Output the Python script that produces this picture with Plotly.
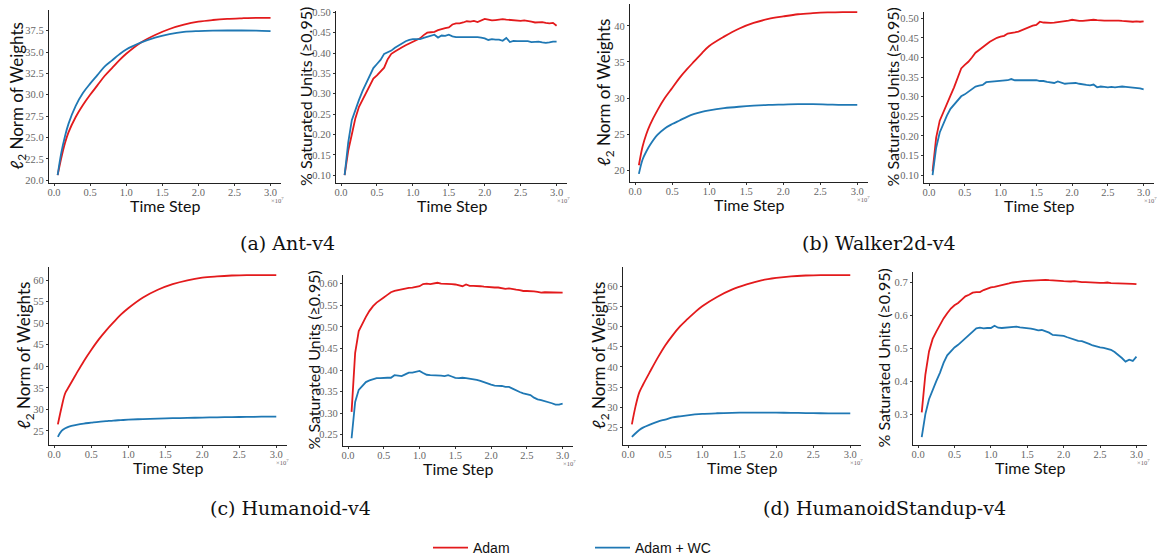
import plotly.graph_objects as go

# ---------------- data ----------------
X_NORM = [0.05, 0.1, 0.15, 0.2, 0.3, 0.4, 0.5, 0.6, 0.7, 0.8, 0.9, 1.0,
          1.2, 1.4, 1.6, 1.8, 2.0, 2.2, 2.4, 2.6, 2.8, 3.0]
X_SAT = [0.05, 0.10, 0.15, 0.20, 0.25, 0.30, 0.35, 0.40, 0.45, 0.50,
         0.55, 0.60, 0.65, 0.70, 0.75, 0.80, 0.85, 0.90, 0.95, 1.00,
         1.05, 1.10, 1.15, 1.20, 1.25, 1.30, 1.35, 1.40, 1.45, 1.50,
         1.55, 1.60, 1.65, 1.70, 1.75, 1.80, 1.85, 1.90, 1.95, 2.00,
         2.05, 2.10, 2.15, 2.20, 2.25, 2.30, 2.35, 2.40, 2.45, 2.50,
         2.55, 2.60, 2.65, 2.70, 2.75, 2.80, 2.85, 2.90, 2.95, 3.00]

ant_norm_adam = [20.6, 22.6, 24.3, 25.6, 27.4, 28.8, 30.0, 31.1, 32.2, 33.1, 34.0, 34.8,
                 36.1, 37.0, 37.7, 38.2, 38.55, 38.75, 38.88, 38.95, 39.0, 39.0]
ant_norm_wc = [20.6, 23.2, 25.1, 26.6, 28.7, 30.2, 31.3, 32.3, 33.3, 34.0, 34.7, 35.3,
               36.1, 36.7, 37.1, 37.35, 37.45, 37.5, 37.52, 37.52, 37.5, 37.45]
ant_sat_adam = [0.100, 0.160, 0.200, 0.240, 0.268, 0.285, 0.305, 0.322, 0.337, 0.345,
                0.355, 0.364, 0.385, 0.398, 0.404, 0.410, 0.414, 0.419, 0.423, 0.427,
                0.430, 0.436, 0.444, 0.450, 0.451, 0.452, 0.456, 0.459, 0.461, 0.463,
                0.470, 0.473, 0.473, 0.475, 0.478, 0.477, 0.479, 0.476, 0.480, 0.484,
                0.482, 0.480, 0.481, 0.482, 0.483, 0.482, 0.481, 0.480, 0.479, 0.479,
                0.480, 0.479, 0.477, 0.475, 0.476, 0.476, 0.474, 0.473, 0.474, 0.467]
ant_sat_wc = [0.100, 0.180, 0.235, 0.262, 0.285, 0.307, 0.327, 0.345, 0.363, 0.373,
              0.383, 0.398, 0.402, 0.406, 0.413, 0.419, 0.424, 0.429, 0.432, 0.434,
              0.434, 0.434, 0.437, 0.440, 0.443, 0.445, 0.438, 0.443, 0.442, 0.445,
              0.441, 0.439, 0.439, 0.439, 0.440, 0.440, 0.440, 0.439, 0.438, 0.436,
              0.432, 0.434, 0.433, 0.433, 0.430, 0.437, 0.427, 0.430, 0.429, 0.429,
              0.428, 0.429, 0.427, 0.427, 0.428, 0.426, 0.425, 0.426, 0.428, 0.428]

walker_norm_adam = [20.7, 23.3, 25.0, 26.3, 28.3, 30.0, 31.4, 32.8, 34.0, 35.1, 36.2, 37.2,
                    38.5, 39.6, 40.4, 40.95, 41.3, 41.6, 41.75, 41.85, 41.9, 41.9]
walker_norm_wc = [19.5, 21.5, 22.6, 23.5, 24.9, 25.8, 26.4, 26.9, 27.4, 27.8, 28.1, 28.3,
                  28.6, 28.8, 28.95, 29.05, 29.1, 29.15, 29.15, 29.1, 29.05, 29.05]
walker_sat_adam = [0.110, 0.196, 0.239, 0.262, 0.282, 0.303, 0.324, 0.350, 0.372, 0.381,
                   0.389, 0.400, 0.412, 0.419, 0.427, 0.433, 0.440, 0.446, 0.450, 0.453,
                   0.455, 0.461, 0.462, 0.464, 0.466, 0.470, 0.475, 0.479, 0.481, 0.483,
                   0.491, 0.489, 0.488, 0.488, 0.489, 0.490, 0.491, 0.492, 0.494, 0.496,
                   0.494, 0.493, 0.493, 0.494, 0.495, 0.496, 0.495, 0.494, 0.494, 0.494,
                   0.494, 0.495, 0.494, 0.493, 0.492, 0.492, 0.491, 0.492, 0.491, 0.492]
walker_sat_wc = [0.100, 0.170, 0.209, 0.232, 0.252, 0.269, 0.280, 0.292, 0.301, 0.306,
                 0.312, 0.320, 0.326, 0.328, 0.330, 0.337, 0.338, 0.338, 0.339, 0.340,
                 0.341, 0.342, 0.345, 0.342, 0.342, 0.342, 0.342, 0.343, 0.343, 0.342,
                 0.340, 0.340, 0.338, 0.337, 0.335, 0.339, 0.336, 0.333, 0.334, 0.335,
                 0.335, 0.333, 0.331, 0.330, 0.329, 0.331, 0.324, 0.326, 0.325, 0.324,
                 0.325, 0.324, 0.325, 0.326, 0.325, 0.324, 0.323, 0.323, 0.321, 0.319]

hum_norm_adam = [26.5, 30.5, 33.8, 35.3, 38.3, 41.2, 43.8, 46.2, 48.3, 50.2, 52.0, 53.5,
                 56.0, 57.8, 59.1, 60.0, 60.6, 60.9, 61.1, 61.2, 61.2, 61.2]
hum_norm_wc = [23.6, 25.0, 25.6, 26.0, 26.4, 26.7, 26.9, 27.1, 27.25, 27.4, 27.5, 27.6,
               27.75, 27.85, 27.95, 28.0, 28.1, 28.15, 28.2, 28.25, 28.3, 28.3]
hum_sat_adam = [0.303, 0.440, 0.490, 0.508, 0.523, 0.537, 0.548, 0.556, 0.563, 0.568,
                0.574, 0.580, 0.583, 0.585, 0.586, 0.588, 0.590, 0.591, 0.592, 0.594,
                0.599, 0.600, 0.599, 0.600, 0.602, 0.600, 0.600, 0.599, 0.599, 0.598,
                0.596, 0.594, 0.598, 0.595, 0.595, 0.595, 0.594, 0.593, 0.592, 0.592,
                0.591, 0.591, 0.589, 0.588, 0.589, 0.587, 0.586, 0.585, 0.583, 0.583,
                0.583, 0.582, 0.581, 0.579, 0.580, 0.580, 0.579, 0.579, 0.579, 0.579]
hum_sat_wc = [0.242, 0.326, 0.354, 0.364, 0.372, 0.376, 0.379, 0.381, 0.381, 0.382,
              0.382, 0.382, 0.388, 0.387, 0.386, 0.390, 0.394, 0.394, 0.396, 0.398,
              0.393, 0.389, 0.388, 0.388, 0.387, 0.387, 0.386, 0.388, 0.385, 0.382,
              0.381, 0.382, 0.381, 0.380, 0.379, 0.377, 0.375, 0.372, 0.368, 0.366,
              0.364, 0.364, 0.363, 0.361, 0.361, 0.357, 0.352, 0.349, 0.346, 0.344,
              0.342, 0.336, 0.332, 0.330, 0.328, 0.326, 0.323, 0.320, 0.320, 0.322]

hs_norm_adam = [25.8, 30.3, 33.7, 35.6, 39.0, 42.3, 45.3, 47.8, 50.0, 51.8, 53.5, 55.0,
                57.3, 59.1, 60.4, 61.4, 62.0, 62.4, 62.6, 62.7, 62.7, 62.7]
hs_norm_wc = [22.7, 23.6, 24.4, 25.0, 25.8, 26.5, 27.0, 27.5, 27.8, 28.05, 28.25, 28.4,
              28.55, 28.65, 28.7, 28.7, 28.7, 28.65, 28.6, 28.55, 28.5, 28.5]
hs_sat_adam = [0.305, 0.420, 0.490, 0.528, 0.550, 0.572, 0.590, 0.606, 0.620, 0.630,
               0.637, 0.647, 0.657, 0.662, 0.668, 0.670, 0.670, 0.676, 0.681, 0.684,
               0.686, 0.688, 0.691, 0.694, 0.696, 0.699, 0.701, 0.701, 0.703, 0.704,
               0.705, 0.706, 0.707, 0.707, 0.707, 0.706, 0.706, 0.705, 0.704, 0.703,
               0.702, 0.702, 0.703, 0.701, 0.700, 0.700, 0.699, 0.699, 0.698, 0.698,
               0.698, 0.699, 0.697, 0.697, 0.697, 0.696, 0.696, 0.696, 0.695, 0.694]
hs_sat_wc = [0.230, 0.300, 0.345, 0.375, 0.400, 0.425, 0.455, 0.478, 0.490, 0.502,
             0.510, 0.520, 0.532, 0.543, 0.553, 0.560, 0.562, 0.560, 0.561, 0.561,
             0.568, 0.562, 0.561, 0.562, 0.563, 0.565, 0.565, 0.563, 0.562, 0.562,
             0.559, 0.557, 0.554, 0.555, 0.552, 0.547, 0.540, 0.539, 0.540, 0.537,
             0.533, 0.529, 0.526, 0.522, 0.521, 0.518, 0.513, 0.508, 0.504, 0.502,
             0.501, 0.499, 0.495, 0.488, 0.480, 0.470, 0.459, 0.465, 0.461, 0.474]

X_TICKS = [0.0, 0.5, 1.0, 1.5, 2.0, 2.5, 3.0]
SERIES_NAMES = ["Adam", "Adam + WC"]
CAPTIONS = ["(a) Ant-v4", "(b) Walker2d-v4", "(c) Humanoid-v4", "(d) HumanoidStandup-v4"]
NORM_TITLE = "<i>ℓ</i><sub>2</sub> Norm of Weights"
SAT_TITLE = "% Saturated Units (≥0.95)"

# ---------------- style / layout ----------------
W, H = 1159, 560
RED = "#e31a1c"
BLUE = "#1f78b4"
SANS = "Lato"
SERIF = "Liberation Serif"

# each panel: (x-data, adam, wc, ytitle, dtick, tick0, fmt, left, right, top, bottom, ytitle_x)
panels = [
    (X_NORM, ant_norm_adam, ant_norm_wc, NORM_TITLE, 2.5, 20, ".1f", 49, 281, 10, 183, 18),
    (X_SAT, ant_sat_adam, ant_sat_wc, SAT_TITLE, 0.05, 0.1, ".2f", 336, 567, 11, 183, 305),
    (X_NORM, walker_norm_adam, walker_norm_wc, NORM_TITLE, 5, 20, "d", 630, 868, 4, 182, 605),
    (X_SAT, walker_sat_adam, walker_sat_wc, SAT_TITLE, 0.05, 0.1, ".2f", 924, 1154, 12, 183, 892),
    (X_NORM, hum_norm_adam, hum_norm_wc, NORM_TITLE, 5, 25, "d", 49, 287, 267, 445, 25),
    (X_SAT, hum_sat_adam, hum_sat_wc, SAT_TITLE, 0.05, 0.25, ".2f", 343, 573, 275, 446, 313),
    (X_NORM, hs_norm_adam, hs_norm_wc, NORM_TITLE, 5, 25, "d", 623, 861, 267, 445, 600),
    (X_SAT, hs_sat_adam, hs_sat_wc, SAT_TITLE, 0.1, 0.3, ".1f", 913, 1147, 272, 445, 883),
]
caption_pos = [(287, 243), (879, 243), (290, 508), (884, 508)]
X_RANGE = [-0.07, 3.145]

fig = go.Figure()
annotations = []
for i, (xs, ya, yw, ytitle, dtick, tick0, fmt, l, r, t, b, ytx) in enumerate(panels):
    n = "" if i == 0 else str(i + 1)
    xa, ya_name = "x" + n, "y" + n
    shape = "spline" if xs is X_NORM else "linear"
    fig.add_trace(go.Scatter(x=xs, y=ya, mode="lines", name=SERIES_NAMES[0],
                             line=dict(color=RED, width=1.8, shape=shape),
                             xaxis=xa, yaxis=ya_name, showlegend=(i == 0), legendgroup="a"))
    fig.add_trace(go.Scatter(x=xs, y=yw, mode="lines", name=SERIES_NAMES[1],
                             line=dict(color=BLUE, width=1.8, shape=shape),
                             xaxis=xa, yaxis=ya_name, showlegend=(i == 0), legendgroup="b"))
    lo = min(min(ya), min(yw))
    hi = max(max(ya), max(yw))
    m = 0.05 * (hi - lo)
    axis_common = dict(showgrid=False, zeroline=False, showline=True, linecolor="#222",
                       linewidth=1.4, ticks="outside", ticklen=2, tickwidth=1,
                       tickcolor="#333", automargin=False,
                       tickfont=dict(family=SERIF, size=10.5, color="#666"))
    fig.update_layout(**{
        "xaxis" + n: dict(domain=[l / W, r / W], anchor=ya_name, range=X_RANGE,
                          tickvals=X_TICKS, tickformat=".1f", ticklabelstandoff=-3,
                          **axis_common),
        "yaxis" + n: dict(domain=[(H - b) / H, (H - t) / H], anchor=xa,
                          range=[lo - m, hi + m], tick0=tick0, dtick=dtick,
                          tickformat=fmt, **axis_common),
    })
    # axis titles
    annotations.append(dict(text="Time Step", xref="paper", yref="paper",
                            x=(l + r) / 2 / W, y=1 - (b + 22) / H,
                            showarrow=False, font=dict(family=SANS, size=16, color="#111"),
                            xanchor="center", yanchor="middle"))
    annotations.append(dict(text=ytitle, xref="paper", yref="paper",
                            x=ytx / W, y=1 - (t + b) / 2 / H, textangle=-90,
                            showarrow=False,
                            font=dict(family=SANS, size=17 if ytitle == NORM_TITLE else 16,
                                      color="#111"),
                            xanchor="center", yanchor="middle"))
    annotations.append(dict(text="×10<sup>7</sup>", xref=xa, yref="paper",
                            x=3.09, y=1 - (b + 17) / H, showarrow=False,
                            font=dict(family=SERIF, size=6.5, color="#666"),
                            xanchor="center", yanchor="middle"))

for cap, (cx, cy) in zip(CAPTIONS, caption_pos):
    annotations.append(dict(text=cap, xref="paper", yref="paper", x=cx / W, y=1 - cy / H,
                            showarrow=False, font=dict(family="DejaVu Serif", size=19, color="#111"),
                            xanchor="center", yanchor="middle"))

fig.update_layout(
    width=W, height=H, margin=dict(l=0, r=0, t=0, b=0, pad=0, autoexpand=False),
    paper_bgcolor="white", plot_bgcolor="white",
    annotations=annotations,
    showlegend=True,
    legend=dict(orientation="h", x=428 / W, xanchor="left", y=1 - 548 / H, yanchor="middle",
                font=dict(family="Liberation Sans", size=14, color="#111"),
                entrywidth=112, bgcolor="rgba(0,0,0,0)", itemwidth=35),
)

fig.write_html("out.html", config={"displayModeBar": False},
               post_script="document.body.style.margin='0';document.body.style.padding='0';")
